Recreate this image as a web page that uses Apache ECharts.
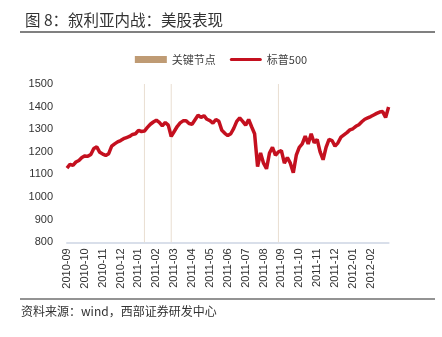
<!DOCTYPE html>
<html>
<head>
<meta charset="utf-8">
<script src="https://cdn.jsdelivr.net/npm/echarts@6/dist/echarts.min.js"></script>
<style>
html,body{margin:0;padding:0;background:#fff;}
#chart{width:442px;height:337px;}
</style>
</head>
<body>
<div id="chart"></div>
<script>
// Tick labels (one per month on the x axis)
const tickLabels = ['2010-09','2010-10','2010-11','2010-12','2011-01','2011-02','2011-03','2011-04','2011-05','2011-06','2011-07','2011-08','2011-09','2011-10','2011-11','2011-12','2012-01','2012-02'];
// sub-samples per month interval
const perMonth = 6;
// S&P 500 values (6 readings per month interval)
const sp500 = [
  1128,1145,1140,1155,1162,1175,
  1182,1180,1188,1215,1222,1198,
  1190,1184,1192,1225,1235,1244,
  1250,1258,1263,1268,1277,1280,
  1295,1290,1292,1308,1322,1332,
  1340,1330,1315,1330,1318,1268,
  1290,1312,1328,1337,1338,1325,
  1322,1342,1362,1352,1360,1344,
  1338,1327,1343,1335,1295,1282,
  1272,1280,1304,1335,1350,1335,
  1318,1343,1311,1280,1135,1195,
  1150,1125,1195,1220,1185,1200,
  1205,1150,1175,1150,1108,1185,
  1220,1235,1270,1235,1280,1240,
  1255,1200,1165,1220,1255,1250,
  1225,1240,1265,1275,1285,1297,
  1302,1313,1320,1333,1344,1350,
  1356,1363,1370,1376,1378,1352,
  1398
];
// Key nodes (sample slots where the key-event markers sit)
const keyNodes = ['2011-01.2','2011-02.5','2011-08.5'];
const keyNodeValue = 1500;

// build category list from tick labels
const categories = [];
tickLabels.forEach(m => {
  categories.push(m);
  for (let k = 1; k < perMonth; k++) categories.push(m + '.' + k);
});
categories.push(tickLabels[tickLabels.length - 1] + '.' + perMonth);
const keyData = categories.map(c => keyNodes.includes(c) ? keyNodeValue : null);

const FONT = '"Liberation Sans", Arial, "Noto Sans CJK SC", sans-serif';
const chart = echarts.init(document.getElementById('chart'), null, {renderer: 'canvas'});
chart.setOption({
  animation: false,
  backgroundColor: '#ffffff',
  title: {
    text: '图 8：叙利亚内战：美股表现',
    left: 20,
    top: 7,
    textStyle: {fontFamily: '"Noto Sans CJK SC", sans-serif', fontSize: 15.5, fontWeight: 'normal', color: '#333333'}
  },
  graphic: [
    {type: 'line', shape: {x1: 20, y1: 32, x2: 435, y2: 32}, style: {stroke: '#808080', lineWidth: 2}},
    {type: 'line', shape: {x1: 20, y1: 299, x2: 435, y2: 299}, style: {stroke: '#6f6f6f', lineWidth: 1.5}},
    {type: 'text', left: 21, top: 305, style: {text: '资料来源：wind，西部证券研发中心', font: '12px "Noto Sans CJK SC", sans-serif', fill: '#333333'}}
  ],
  legend: {
    top: 49,
    left: 'center',
    itemWidth: 32,
    itemHeight: 7,
    itemGap: 14,
    textStyle: {fontFamily: '"Noto Sans CJK SC", sans-serif', fontSize: 11, color: '#404040'},
    data: [
      {name: '关键节点', icon: 'rect', itemStyle: {color: '#BF9B74'}},
      {name: '标普500', icon: 'path://M0,0M1.5,2L30.5,2A1.5,1.5,0,0,1,30.5,5L1.5,5A1.5,1.5,0,0,1,1.5,2ZM32,7', itemStyle: {color: '#C4101F'}}
    ]
  },
  grid: {left: 67, right: 53.4, top: 84, bottom: 94.7, containLabel: false},
  xAxis: {
    type: 'category',
    data: categories,
    boundaryGap: false,
    axisLine: {lineStyle: {color: '#D9DFEA', width: 2}},
    axisTick: {show: false},
    splitLine: {show: false},
    axisLabel: {
      rotate: 90,
      margin: 6,
      fontFamily: FONT,
      fontSize: 11,
      color: '#333333',
      interval: (idx, val) => tickLabels.includes(val),
      formatter: v => v
    }
  },
  yAxis: {
    type: 'value',
    min: 800,
    max: 1500,
    interval: 100,
    axisLine: {show: false},
    axisTick: {show: false},
    splitLine: {show: false},
    axisLabel: {margin: 14, fontFamily: FONT, fontSize: 11, color: '#333333', formatter: v => String(v)}
  },
  series: [
    {
      name: '关键节点',
      type: 'bar',
      data: keyData,
      barWidth: 1,
      clip: true,
      itemStyle: {color: '#E9DED1'},
      z: 1
    },
    {
      name: '标普500',
      type: 'line',
      data: sp500,
      symbol: 'none',
      lineStyle: {color: '#C4101F', width: 3.5},
      itemStyle: {color: '#C4101F'},
      z: 3
    }
  ]
});
</script>
</body>
</html>
